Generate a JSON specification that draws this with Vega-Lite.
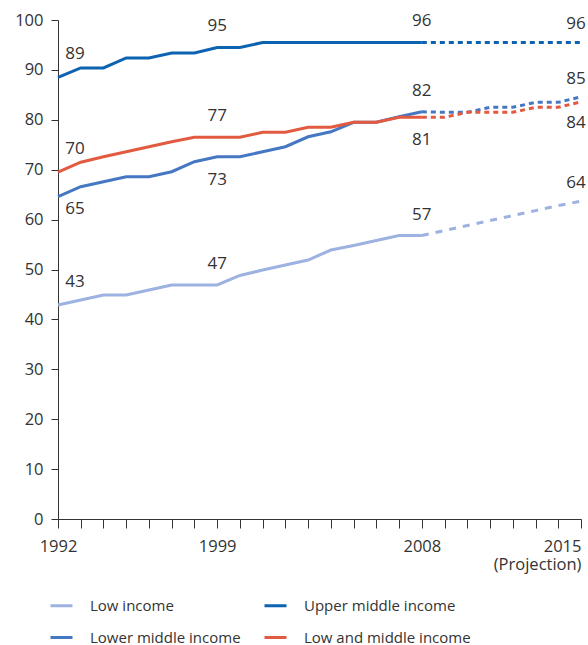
{
  "$schema": "https://vega.github.io/schema/vega-lite/v6.json",
  "width": 523,
  "height": 499,
  "autosize": {"type": "none"},
  "padding": {"left": 58, "top": 20, "right": 7, "bottom": 126},
  "background": "white",
  "config": {
    "view": {"stroke": null},
    "font": "Open Sans",
    "axis": {"grid": false, "domainColor": "#333", "tickColor": "#333", "labelColor": "#333", "labelFont": "Open Sans", "labelFontSize": 16.5, "title": null}
  },
  "data": {"values": [
    {"series":"Upper middle income","year":1992,"value":88.5},{"series":"Upper middle income","year":1993,"value":90.4},{"series":"Upper middle income","year":1994,"value":90.4},{"series":"Upper middle income","year":1995,"value":92.4},{"series":"Upper middle income","year":1996,"value":92.4},{"series":"Upper middle income","year":1997,"value":93.4},{"series":"Upper middle income","year":1998,"value":93.4},{"series":"Upper middle income","year":1999,"value":94.5},{"series":"Upper middle income","year":2000,"value":94.5},{"series":"Upper middle income","year":2001,"value":95.5},{"series":"Upper middle income","year":2002,"value":95.5},{"series":"Upper middle income","year":2003,"value":95.5},{"series":"Upper middle income","year":2004,"value":95.5},{"series":"Upper middle income","year":2005,"value":95.5},{"series":"Upper middle income","year":2006,"value":95.5},{"series":"Upper middle income","year":2007,"value":95.5},{"series":"Upper middle income","year":2008,"value":95.5},{"series":"Upper middle income","year":2009,"value":95.5},{"series":"Upper middle income","year":2010,"value":95.5},{"series":"Upper middle income","year":2011,"value":95.5},{"series":"Upper middle income","year":2012,"value":95.5},{"series":"Upper middle income","year":2013,"value":95.5},{"series":"Upper middle income","year":2014,"value":95.5},{"series":"Upper middle income","year":2015,"value":95.5},
    {"series":"Lower middle income","year":1992,"value":64.6},{"series":"Lower middle income","year":1993,"value":66.6},{"series":"Lower middle income","year":1994,"value":67.6},{"series":"Lower middle income","year":1995,"value":68.6},{"series":"Lower middle income","year":1996,"value":68.6},{"series":"Lower middle income","year":1997,"value":69.6},{"series":"Lower middle income","year":1998,"value":71.6},{"series":"Lower middle income","year":1999,"value":72.6},{"series":"Lower middle income","year":2000,"value":72.6},{"series":"Lower middle income","year":2001,"value":73.6},{"series":"Lower middle income","year":2002,"value":74.6},{"series":"Lower middle income","year":2003,"value":76.6},{"series":"Lower middle income","year":2004,"value":77.6},{"series":"Lower middle income","year":2005,"value":79.5},{"series":"Lower middle income","year":2006,"value":79.5},{"series":"Lower middle income","year":2007,"value":80.6},{"series":"Lower middle income","year":2008,"value":81.6},{"series":"Lower middle income","year":2009,"value":81.5},{"series":"Lower middle income","year":2010,"value":81.5},{"series":"Lower middle income","year":2011,"value":82.5},{"series":"Lower middle income","year":2012,"value":82.5},{"series":"Lower middle income","year":2013,"value":83.5},{"series":"Lower middle income","year":2014,"value":83.5},{"series":"Lower middle income","year":2015,"value":84.6},
    {"series":"Low and middle income","year":1992,"value":69.5},{"series":"Low and middle income","year":1993,"value":71.5},{"series":"Low and middle income","year":1994,"value":72.6},{"series":"Low and middle income","year":1995,"value":73.6},{"series":"Low and middle income","year":1996,"value":74.6},{"series":"Low and middle income","year":1997,"value":75.6},{"series":"Low and middle income","year":1998,"value":76.5},{"series":"Low and middle income","year":1999,"value":76.5},{"series":"Low and middle income","year":2000,"value":76.5},{"series":"Low and middle income","year":2001,"value":77.5},{"series":"Low and middle income","year":2002,"value":77.5},{"series":"Low and middle income","year":2003,"value":78.5},{"series":"Low and middle income","year":2004,"value":78.5},{"series":"Low and middle income","year":2005,"value":79.5},{"series":"Low and middle income","year":2006,"value":79.5},{"series":"Low and middle income","year":2007,"value":80.5},{"series":"Low and middle income","year":2008,"value":80.5},{"series":"Low and middle income","year":2009,"value":80.5},{"series":"Low and middle income","year":2010,"value":81.5},{"series":"Low and middle income","year":2011,"value":81.5},{"series":"Low and middle income","year":2012,"value":81.5},{"series":"Low and middle income","year":2013,"value":82.5},{"series":"Low and middle income","year":2014,"value":82.5},{"series":"Low and middle income","year":2015,"value":83.6},
    {"series":"Low income","year":1992,"value":42.9},{"series":"Low income","year":1993,"value":43.9},{"series":"Low income","year":1994,"value":44.9},{"series":"Low income","year":1995,"value":44.9},{"series":"Low income","year":1996,"value":45.9},{"series":"Low income","year":1997,"value":46.9},{"series":"Low income","year":1998,"value":46.9},{"series":"Low income","year":1999,"value":46.9},{"series":"Low income","year":2000,"value":48.8},{"series":"Low income","year":2001,"value":49.9},{"series":"Low income","year":2002,"value":50.9},{"series":"Low income","year":2003,"value":51.9},{"series":"Low income","year":2004,"value":53.9},{"series":"Low income","year":2005,"value":54.8},{"series":"Low income","year":2006,"value":55.8},{"series":"Low income","year":2007,"value":56.8},{"series":"Low income","year":2008,"value":56.8},{"series":"Low income","year":2009,"value":57.8},{"series":"Low income","year":2010,"value":58.8},{"series":"Low income","year":2011,"value":59.8},{"series":"Low income","year":2012,"value":60.8},{"series":"Low income","year":2013,"value":61.8},{"series":"Low income","year":2014,"value":62.8},{"series":"Low income","year":2015,"value":63.7}
  ]},
  "encoding": {
    "x": {"field": "year", "type": "quantitative", "scale": {"domain": [1992, 2015], "nice": false, "zero": false},
      "axis": {"values": [1992,1993,1994,1995,1996,1997,1998,1999,2000,2001,2002,2003,2004,2005,2006,2007,2008,2009,2010,2011,2012,2013,2014,2015],
        "format": "d", "tickSize": 9, "labelPadding": 10, "labelLineHeight": 18, "labelOverlap": false,
        "labelAlign": {"condition": {"test": "datum.value == 2015", "value": "right"}, "value": "center"},
        "labelExpr": "datum.value == 2015 ? ['2015', '(Projection)'] : (datum.value == 1992 || datum.value == 1999 || datum.value == 2008) ? datum.label : ''"}},
    "y": {"field": "value", "type": "quantitative", "scale": {"domain": [0, 100], "nice": false},
      "axis": {"values": [0,10,20,30,40,50,60,70,80,90,100], "tickSize": 7, "labelPadding": 8}}
  },
  "layer": [
    {"transform": [{"filter": "datum.year <= 2008"}],
     "mark": {"type": "line", "strokeWidth": 3},
     "encoding": {"color": {"field": "series", "type": "nominal",
       "scale": {"domain": ["Low income", "Lower middle income", "Upper middle income", "Low and middle income"], "range": ["#9db2e0", "#4677c3", "#0b63b1", "#e25a40"]},
       "legend": {"title": null, "orient": "none", "legendX": -9, "legendY": 573, "columns": 2, "symbolType": "stroke", "symbolSize": 484, "symbolStrokeWidth": 3, "labelFontSize": 15, "labelColor": "#333", "labelFont": "Open Sans", "labelOffset": 16, "rowPadding": 11, "columnPadding": 17, "labelLimit": 400}}}},
    {"transform": [{"filter": "datum.year >= 2008 && datum.series != 'Low income'"}],
     "mark": {"type": "line", "strokeWidth": 3, "strokeDash": [5, 4]},
     "encoding": {"color": {"field": "series", "type": "nominal"}}},
    {"transform": [{"filter": "datum.year >= 2008 && datum.series == 'Low income'"}],
     "mark": {"type": "line", "strokeWidth": 3, "strokeDash": [7, 7]},
     "encoding": {"color": {"field": "series", "type": "nominal"}}},
    {"transform": [{"filter": "datum.year == 1992 && datum.series != 'Lower middle income'"}],
     "mark": {"type": "text", "fontSize": 17, "color": "#333", "dx": 17, "dy": -23, "baseline": "middle"},
     "encoding": {"text": {"field": "value", "type": "quantitative", "format": ".0f"}}},
    {"transform": [{"filter": "datum.year == 1992 && datum.series == 'Lower middle income'"}],
     "mark": {"type": "text", "fontSize": 17, "color": "#333", "dx": 17, "dy": 12, "baseline": "middle"},
     "encoding": {"text": {"field": "value", "type": "quantitative", "format": ".0f"}}},
    {"transform": [{"filter": "(datum.year == 1999 && datum.series != 'Lower middle income') || (datum.year == 2008 && datum.series != 'Low and middle income')"}],
     "mark": {"type": "text", "fontSize": 17, "color": "#333", "dy": -21, "baseline": "middle"},
     "encoding": {"text": {"field": "value", "type": "quantitative", "format": ".0f"}}},
    {"transform": [{"filter": "(datum.year == 1999 && datum.series == 'Lower middle income') || (datum.year == 2008 && datum.series == 'Low and middle income')"}],
     "mark": {"type": "text", "fontSize": 17, "color": "#333", "dy": 23, "baseline": "middle"},
     "encoding": {"text": {"field": "value", "type": "quantitative", "format": ".0f"}}},
    {"transform": [{"filter": "datum.year == 2015 && datum.series != 'Low and middle income'"}],
     "mark": {"type": "text", "fontSize": 17, "color": "#333", "dx": -5, "dy": -18, "baseline": "middle"},
     "encoding": {"text": {"field": "value", "type": "quantitative", "format": ".0f"}}},
    {"transform": [{"filter": "datum.year == 2015 && datum.series == 'Low and middle income'"}],
     "mark": {"type": "text", "fontSize": 17, "color": "#333", "dx": -5, "dy": 21, "baseline": "middle"},
     "encoding": {"text": {"field": "value", "type": "quantitative", "format": ".0f"}}}
  ]
}
